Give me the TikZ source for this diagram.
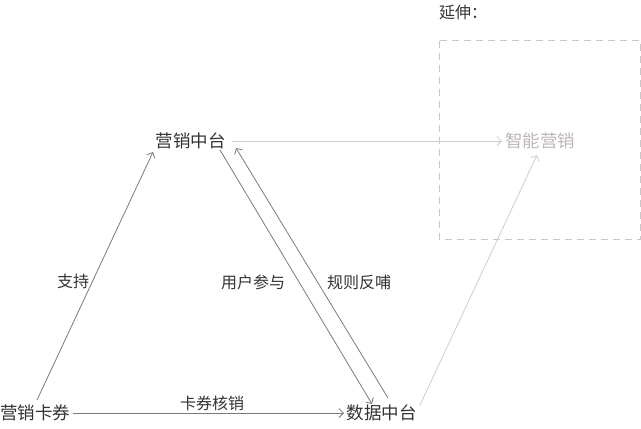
\documentclass[tikz,border=0pt]{standalone}
\usepackage{fontspec}
\setmainfont{Noto Sans CJK SC}
\usetikzlibrary{arrows.meta}
\definecolor{txt}{HTML}{333333}
\definecolor{arr}{HTML}{7A7A7A}
\definecolor{lite}{HTML}{CDCDCD}
\definecolor{litetxt}{HTML}{BDB6B6}
\definecolor{dashcol}{HTML}{C8C8C8}
\tikzset{
  box/.style={inner sep=0pt, text=txt, font=\fontsize{17.5pt}{20pt}\selectfont},
  lbl/.style={inner sep=0pt, text=txt, font=\fontsize{16pt}{18pt}\selectfont},
  conn/.style={draw=arr, line width=0.8pt, -{Straight Barb[length=4.5pt,width=9pt]}},
  liteconn/.style={draw=lite, line width=0.8pt, -{Straight Barb[length=4.5pt,width=9pt]}},
  extbox/.style={draw=dashcol, dash pattern=on 7pt off 5pt, line width=0.8pt},
}
\begin{document}
\begin{tikzpicture}[x=1pt,y=-1pt]
\useasboundingbox (0,0) rectangle (641,429);
\node[box] (A) at (190.5,141) {营销中台};
\node[box] (B) at (35.5,413) {营销卡券};
\node[box] (C) at (381.5,413) {数据中台};
\node[box, text=litetxt] (D) at (540,141) {智能营销};
\node[lbl, anchor=west] (E) at (439,13) {延伸：};
\draw[extbox] (439.5,40.5) rectangle (640,239.5);
\node[lbl] (L1) at (73,281) {支持};
\node[lbl] (L2) at (253,282) {用户参与};
\node[lbl] (L3) at (359,282) {规则反哺};
\node[lbl] (L4) at (212,403) {卡券核销};
\draw[conn] ([shift={(1.5,-13)}]B.center) -- ([shift={(-37.5,11)}]A.center);
\draw[conn] ([shift={(37,0)}]B.center) -- ([shift={(-37.5,0)}]C.center);
\draw[conn] ([shift={(29.5,9)}]A.center) -- ([shift={(-9.5,-9)}]C.center);
\draw[conn] ([shift={(6.5,-15)}]C.center) -- ([shift={(45.5,7)}]A.center);
\draw[liteconn] ([shift={(41.5,0)}]A.center) -- ([shift={(-38,0)}]D.center);
\draw[liteconn] ([shift={(38.5,-8)}]C.center) -- ([shift={(-3,14)}]D.center);
\end{tikzpicture}
\end{document}
